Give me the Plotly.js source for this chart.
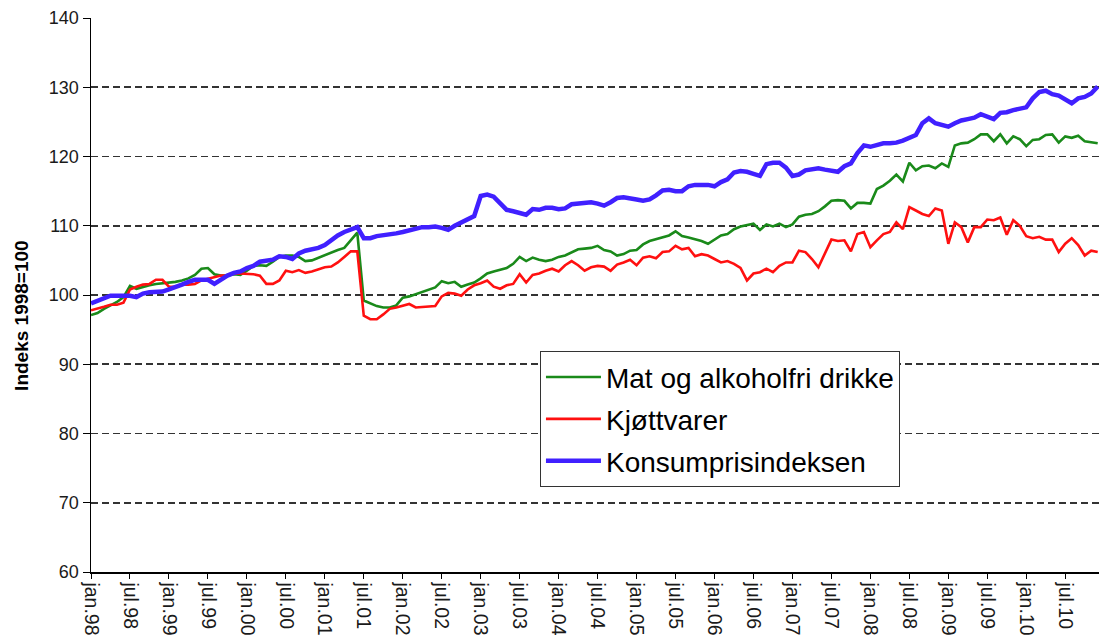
<!DOCTYPE html>
<html><head><meta charset="utf-8">
<script src="https://cdn.plot.ly/plotly-3.0.1.min.js"></script>
<style>html,body{margin:0;padding:0;background:#fff}#chart{width:1099px;height:636px}</style>
</head><body><div id="chart"></div>
<script>
const monthNames = ['jan','feb','mar','apr','mai','jun','jul','aug','sep','okt','nov','des'];
const years = ['98','99','00','01','02','03','04','05','06','07','08','09','10'];
const months = [];
years.forEach(function (yy) { monthNames.forEach(function (mn) { months.push(mn + '.' + yy); }); });

const tickLabels = ['jan.98','jul.98','jan.99','jul.99','jan.00','jul.00','jan.01','jul.01','jan.02','jul.02',
  'jan.03','jul.03','jan.04','jul.04','jan.05','jul.05','jan.06','jul.06','jan.07','jul.07',
  'jan.08','jul.08','jan.09','jul.09','jan.10','jul.10'];
const yTicks = [60,70,80,90,100,110,120,130,140];

const seriesNames = ['Mat og alkoholfri drikke','Kjøttvarer','Konsumprisindeksen'];

const matOgDrikke = [
  97.1,97.4,98.0,98.5,99.0,99.7,101.3,100.9,101.2,101.4,101.6,101.7,
  101.7,101.9,102.1,102.4,102.9,103.8,103.9,103.0,102.8,102.8,103.0,102.9,
  103.5,104.2,104.3,104.2,104.8,105.5,105.7,105.7,105.5,104.9,105.0,105.4,
  105.8,106.1,106.5,106.8,107.9,109.0,99.2,98.8,98.4,98.2,98.2,98.5,
  99.6,99.8,100.1,100.5,100.7,101.1,102.0,101.7,101.9,101.2,101.5,101.8,
  102.4,103.1,103.4,103.6,103.9,104.5,105.5,104.9,105.4,105.1,104.9,105.1,
  105.5,105.7,106.2,106.6,106.7,106.8,107.1,106.5,106.3,105.7,105.9,106.4,
  106.5,107.3,107.8,108.1,108.3,108.6,109.2,108.5,108.3,108.1,107.8,107.4,
  108.0,108.6,108.8,109.5,109.9,110.1,110.3,109.4,110.2,109.9,110.3,109.8,
  110.2,111.3,111.6,111.7,112.1,112.8,113.6,113.7,113.6,112.5,113.3,113.3,
  113.2,115.3,115.8,116.5,117.4,116.4,119.1,118.0,118.6,118.7,118.3,119.0,
  118.5,121.6,121.9,122.0,122.5,123.2,123.2,122.2,123.2,121.9,122.9,122.5,
  121.5,122.4,122.5,123.1,123.2,122.0,122.9,122.7,123.0,122.2,122.0,121.9
];

const kjottvarer = [
  97.8,98.0,98.3,98.6,98.6,98.9,100.8,101.2,101.5,101.6,102.2,102.2,
  101.2,101.2,101.5,101.5,101.6,102.1,102.3,102.5,102.8,102.8,103.1,103.1,
  103.1,103.0,102.8,101.6,101.6,102.1,103.5,103.3,103.6,103.2,103.4,103.7,
  104.0,104.1,104.7,105.5,106.3,106.3,97.0,96.5,96.5,97.2,98.0,98.2,
  98.5,98.7,98.2,98.3,98.3,98.4,99.8,100.3,100.2,99.9,100.8,101.4,
  101.7,102.1,101.2,100.9,101.4,101.6,103.0,101.8,102.9,103.1,103.5,103.8,
  103.4,104.3,104.9,104.3,103.5,104.0,104.2,104.1,103.5,104.4,104.7,105.1,
  104.3,105.4,105.6,105.3,106.2,106.3,107.1,106.6,106.8,105.6,105.9,105.7,
  105.2,104.7,104.9,104.5,103.9,102.1,103.1,103.3,103.8,103.3,104.2,104.7,
  104.7,106.4,106.2,105.2,104.0,105.9,108.0,107.8,107.9,106.3,108.8,109.1,
  106.9,107.9,108.8,109.1,110.5,109.5,112.7,112.2,111.7,111.4,112.5,112.2,
  107.4,110.5,109.8,107.6,109.8,109.8,110.9,110.8,111.2,108.7,110.8,110.0,
  108.5,108.2,108.4,108.0,108.0,106.2,107.4,108.2,107.2,105.7,106.4,106.2
];

const kpi = [
  98.8,99.2,99.6,99.9,99.9,99.9,99.9,99.7,100.2,100.4,100.4,100.5,
  100.8,101.1,101.5,101.9,102.2,102.2,102.2,101.6,102.2,102.8,103.2,103.4,
  103.9,104.2,104.8,105.0,105.1,105.6,105.5,105.2,106.0,106.4,106.6,106.8,
  107.2,108.0,108.6,109.1,109.4,109.8,108.2,108.2,108.5,108.6,108.7,108.9,
  109.1,109.3,109.6,109.8,109.8,109.9,109.7,109.4,110.0,110.5,110.9,111.4,
  114.3,114.5,114.2,113.2,112.3,112.1,111.8,111.6,112.4,112.3,112.6,112.6,
  112.4,112.5,113.1,113.2,113.3,113.4,113.2,112.9,113.4,114.0,114.1,114.0,
  113.8,113.6,113.8,114.4,115.1,115.2,115.0,115.0,115.7,115.9,115.9,115.9,
  115.7,116.3,116.7,117.7,117.9,117.8,117.5,117.2,118.9,119.1,119.1,118.4,
  117.2,117.4,118.0,118.1,118.3,118.1,117.9,117.8,118.6,119.0,120.5,121.6,
  121.4,121.7,121.9,121.9,122.0,122.3,122.7,123.1,124.8,125.5,124.8,124.5,
  124.3,124.8,125.2,125.4,125.6,126.1,125.8,125.4,126.3,126.4,126.7,126.9,
  127.1,128.4,129.3,129.5,129.0,128.8,128.2,127.7,128.4,128.6,129.1,130.1
];

const FONT = 'Arial, "Liberation Sans", sans-serif';

const traces = [
  {x: months, y: matOgDrikke, name: seriesNames[0], legendgroup: 'a', type: 'scatter', mode: 'lines',
   line: {color: '#1a8a1a', width: 2.6}},
  {x: months, y: kjottvarer, name: seriesNames[1], legendgroup: 'b', type: 'scatter', mode: 'lines',
   line: {color: '#ff1010', width: 2.6}},
  {x: months, y: kpi, name: seriesNames[2], legendgroup: 'c', type: 'scatter', mode: 'lines',
   line: {color: '#4020ff', width: 4.5}}
];

const layout = {
  width: 1099, height: 636,
  margin: {l: 91, r: 0, t: 18, b: 64},
  paper_bgcolor: '#ffffff', plot_bgcolor: '#ffffff',
  font: {family: FONT, color: '#1a1a1a'},
  showlegend: true,
  legend: {
    x: 0.4454, y: 0.3985, xanchor: 'left', yanchor: 'top',
    bgcolor: '#ffffff', bordercolor: '#333333', borderwidth: 1,
    font: {family: FONT, size: 28, color: '#000000'},
    tracegroupgap: 2.5, traceorder: 'grouped', itemwidth: 55
  },
  xaxis: {
    type: 'category', categoryorder: 'array', categoryarray: months,
    range: [0, 155.2],
    tickmode: 'array', tickvals: tickLabels, ticktext: tickLabels,
    tickangle: 90, tickfont: {family: FONT, size: 19.5, color: '#1a1a1a'},
    ticks: 'outside', ticklen: 5, tickcolor: '#000000', tickwidth: 1,
    showline: true, linecolor: '#000000', linewidth: 1.5,
    showgrid: false, zeroline: false, automargin: false
  },
  yaxis: {
    range: [60, 140],
    tickmode: 'array', tickvals: yTicks,
    tickfont: {family: FONT, size: 18, color: '#1a1a1a'},
    ticks: 'outside', ticklen: 7, tickcolor: '#000000', tickwidth: 1,
    showline: true, linecolor: '#000000', linewidth: 1.5,
    showgrid: true, gridcolor: '#333333', gridwidth: 1.8, griddash: '7px,4px',
    zeroline: false, automargin: false
  },
  annotations: [{
    text: '<b>Indeks 1998=100</b>', textangle: -90,
    xref: 'paper', yref: 'paper', x: -0.0685, y: 0.464,
    xanchor: 'center', yanchor: 'middle', showarrow: false,
    font: {family: FONT, size: 19, color: '#000000'}
  }]
};

Plotly.newPlot('chart', traces, layout, {displayModeBar: false, staticPlot: true});
</script>
</body></html>
